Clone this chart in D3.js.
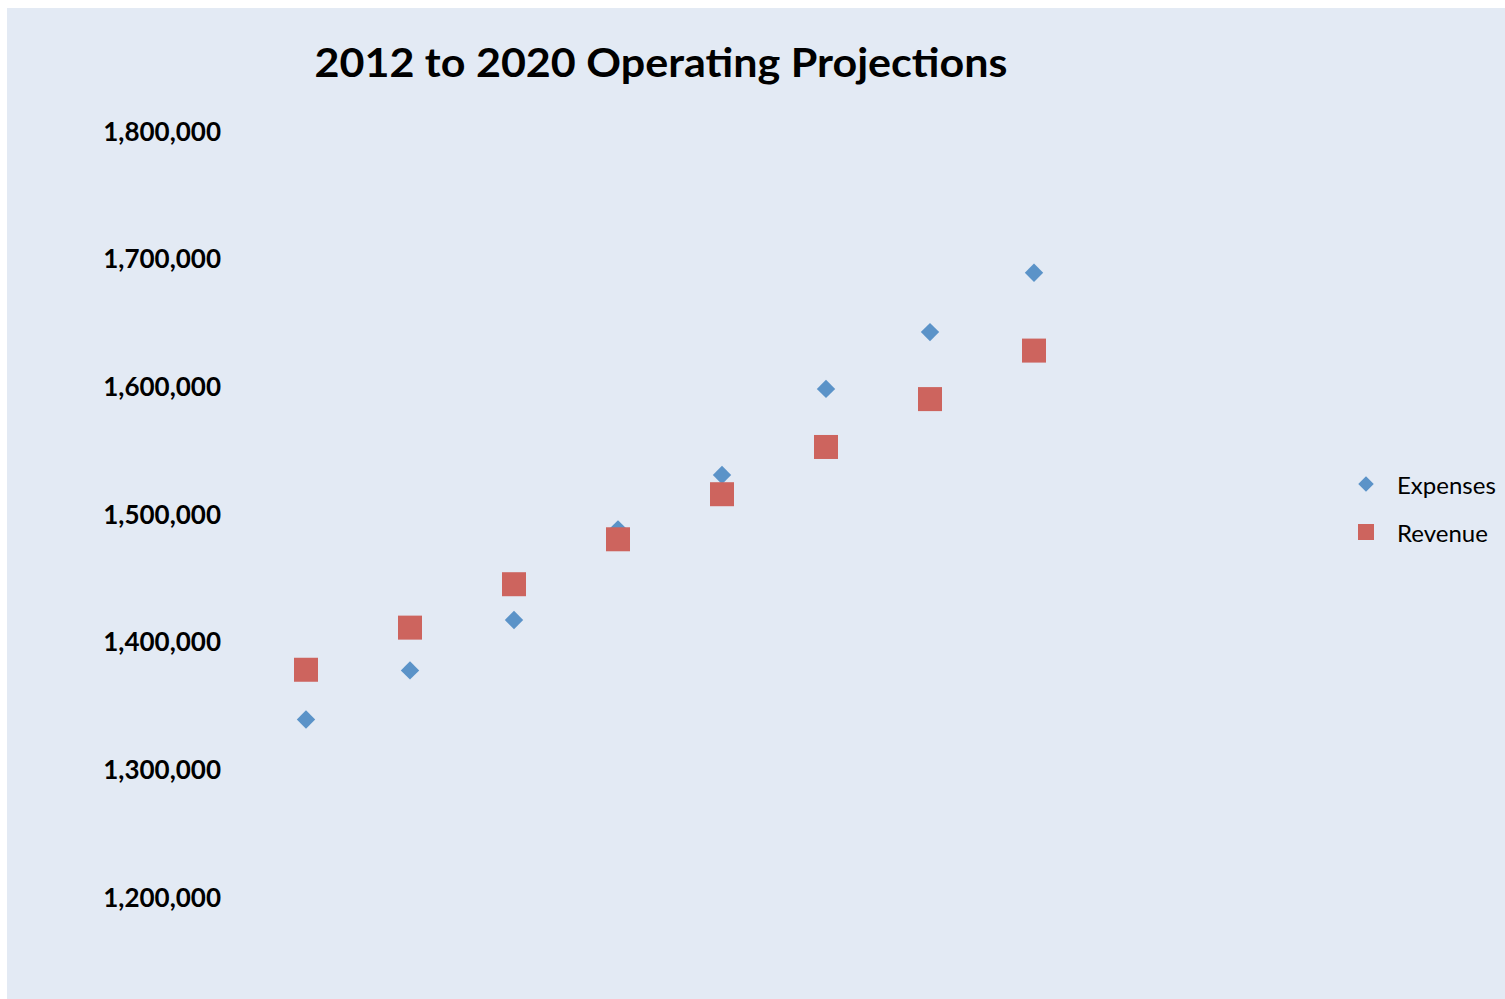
<!DOCTYPE html>
<html>
<head>
<meta charset="utf-8">
<script src="https://cdn.jsdelivr.net/npm/d3@7/dist/d3.min.js"></script>
<style>
  html, body { margin: 0; padding: 0; background: #ffffff; }
  svg { display: block; }
  text { font-family: Lato, "Open Sans", sans-serif; fill: #000; }
</style>
</head>
<body>
<script>
// Projection years (one point per year)
const years = [2013, 2014, 2015, 2016, 2017, 2018, 2019, 2020];
// Projected expenses
const expenses = [1339000, 1377500, 1417000, 1488000, 1530500, 1598000, 1642500, 1689000];
// Projected revenue
const revenue = [1378000, 1411000, 1445000, 1480200, 1515500, 1552500, 1590000, 1628000];
// Value-axis ticks
const yTicks = [1200000, 1300000, 1400000, 1500000, 1600000, 1700000, 1800000];
const seriesNames = ["Expenses", "Revenue"];
const titleText = "2012 to 2020 Operating Projections";

const W = 1505, H = 999;
const colors = { Expenses: "#5B93C8", Revenue: "#CD645E" };

const svg = d3.select("body").append("svg")
  .attr("width", W).attr("height", H);

// chart area background
svg.append("rect")
  .attr("x", 7).attr("y", 8)
  .attr("width", W - 7).attr("height", H - 8)
  .attr("fill", "#E3EAF4");

const x = d3.scaleLinear().domain([2013, 2020]).range([306, 1034]);
const y = d3.scaleLinear().domain([1200000, 1800000]).range([897, 131]);

// title
svg.append("text")
  .attr("x", 661).attr("y", 77)
  .attr("text-anchor", "middle")
  .attr("font-size", 40).attr("font-weight", "bold")
  .attr("textLength", 693).attr("lengthAdjust", "spacingAndGlyphs")
  .text(titleText);

// y axis (labels only, no line or tick marks)
const fmt = d3.format(",");
const yAxis = d3.axisLeft(y).tickValues(yTicks).tickFormat(fmt).tickSize(0).tickPadding(0);
const gy = svg.append("g").attr("transform", "translate(221,1)").call(yAxis);
gy.select(".domain").remove();
gy.selectAll("text")
  .attr("font-family", "Lato, 'Open Sans', sans-serif")
  .attr("font-size", 26).attr("font-weight", "bold")
  .attr("fill", "#000");

const diamond = d3.symbol().type(d3.symbolSquare).size(13 * 13);
const squareSize = 24;

// expenses: diamonds
svg.append("g").selectAll("path")
  .data(years.map((yr, i) => ({ yr, v: expenses[i] })))
  .join("path")
  .attr("d", diamond)
  .attr("transform", d => `translate(${x(d.yr)},${y(d.v)}) rotate(45)`)
  .attr("fill", colors.Expenses);

// revenue: squares
svg.append("g").selectAll("rect")
  .data(years.map((yr, i) => ({ yr, v: revenue[i] })))
  .join("rect")
  .attr("x", d => x(d.yr) - squareSize / 2)
  .attr("y", d => y(d.v) - squareSize / 2)
  .attr("width", squareSize).attr("height", squareSize)
  .attr("fill", colors.Revenue);

// legend
const legend = svg.append("g").attr("transform", "translate(1366,484)");
seriesNames.forEach((name, i) => {
  const g = legend.append("g").attr("transform", `translate(0,${i * 48})`);
  if (name === "Expenses") {
    g.append("path")
      .attr("d", d3.symbol().type(d3.symbolSquare).size(11 * 11))
      .attr("transform", "rotate(45)")
      .attr("fill", colors[name]);
  } else {
    g.append("rect").attr("x", -8).attr("y", -8)
      .attr("width", 16).attr("height", 16)
      .attr("fill", colors[name]);
  }
  g.append("text")
    .attr("x", 31).attr("y", 10)
    .attr("font-size", 24)
    .text(name);
});
</script>
</body>
</html>
